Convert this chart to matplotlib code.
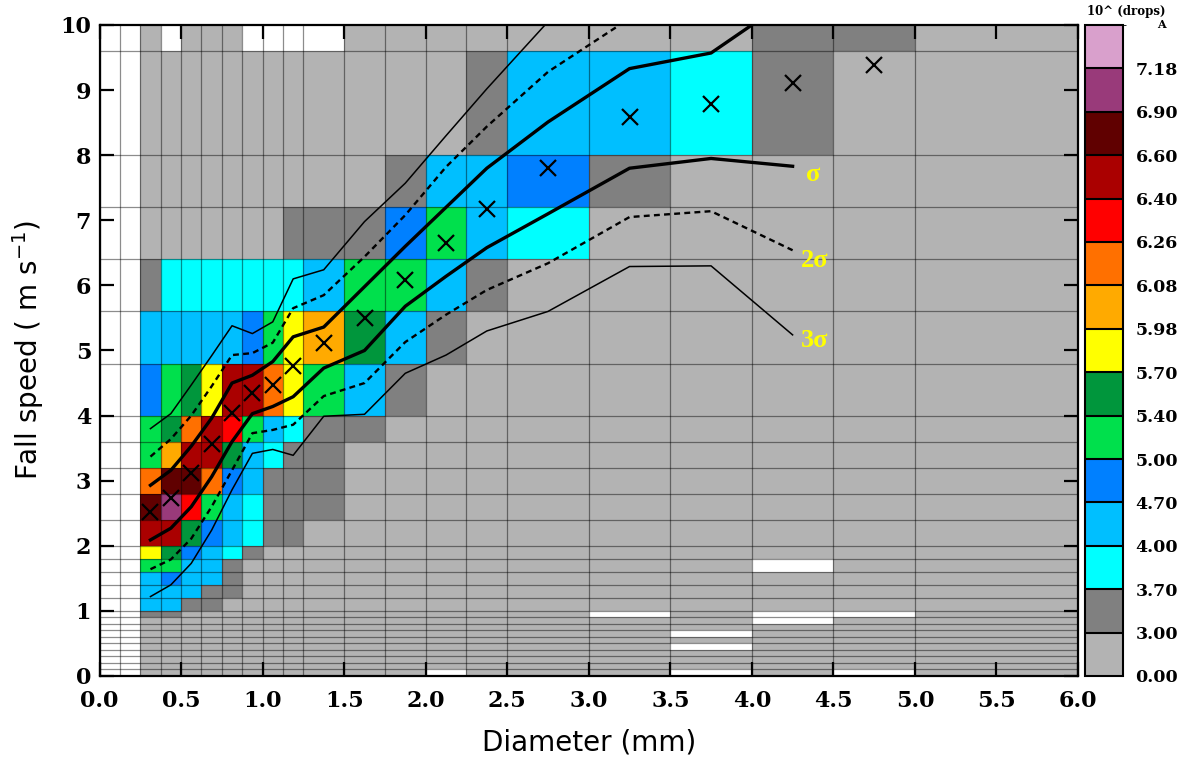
import numpy as np
import matplotlib
matplotlib.use('Agg')
import matplotlib.pyplot as plt
from matplotlib.colors import ListedColormap, BoundaryNorm
from matplotlib.cm import ScalarMappable

nan = np.nan

# diameter / fall speed classes (bin edges)
diam_edges = [0.0, 0.125, 0.25, 0.375, 0.5, 0.625, 0.75, 0.875, 1.0, 1.125, 1.25,
              1.5, 1.75, 2.0, 2.25, 2.5, 3.0, 3.5, 4.0, 4.5, 5.0, 6.0]
speed_edges = [0.0, 0.1, 0.2, 0.3, 0.4, 0.5, 0.6, 0.7, 0.8, 0.9, 1.0,
               1.2, 1.4, 1.6, 1.8, 2.0, 2.4, 2.8, 3.2, 3.6, 4.0,
               4.8, 5.6, 6.4, 7.2, 8.0, 9.6, 11.2]

# log10(number of drops), one row per speed class (bottom -> top)
counts = [
    [nan, nan, 2, 2, 2, 2, 2, 2, 2, 2, 2, 2, 2, nan, 2, 2, 2, nan, 2, nan, 2],        # 0.0-0.1
    [nan, nan, 2, 2, 2, 2, 2, 2, 2, 2, 2, 2, 2, 2, 2, 2, 2, 2, 2, 2, 2],              # 0.1-0.2
    [nan, nan, 2, 2, 2, 2, 2, 2, 2, 2, 2, 2, 2, 2, 2, 2, 2, 2, 2, 2, 2],              # 0.2-0.3
    [nan, nan, 2, 2, 2, 2, 2, 2, 2, 2, 2, 2, 2, 2, 2, 2, 2, 2, 2, 2, 2],              # 0.3-0.4
    [nan, nan, 2, 2, 2, 2, 2, 2, 2, 2, 2, 2, 2, 2, 2, 2, 2, nan, 2, 2, 2],            # 0.4-0.5
    [nan, nan, 2, 2, 2, 2, 2, 2, 2, 2, 2, 2, 2, 2, 2, 2, 2, 2, 2, 2, 2],              # 0.5-0.6
    [nan, nan, 2, 2, 2, 2, 2, 2, 2, 2, 2, 2, 2, 2, 2, 2, 2, nan, 2, 2, 2],            # 0.6-0.7
    [nan, nan, 2, 2, 2, 2, 2, 2, 2, 2, 2, 2, 2, 2, 2, 2, 2, 2, 2, 2, 2],              # 0.7-0.8
    [nan, nan, 2, 2, 2, 2, 2, 2, 2, 2, 2, 2, 2, 2, 2, 2, 2, 2, nan, 2, 2],            # 0.8-0.9
    [nan, nan, 3.4, 3.4, 2, 2, 2, 2, 2, 2, 2, 2, 2, 2, 2, 2, nan, 2, nan, nan, 2],    # 0.9-1.0
    [nan, nan, 4.4, 4.4, 3.4, 3.4, 2, 2, 2, 2, 2, 2, 2, 2, 2, 2, 2, 2, 2, 2, 2],      # 1.0-1.2
    [nan, nan, 4.4, 4.4, 4.4, 3.4, 3.4, 2, 2, 2, 2, 2, 2, 2, 2, 2, 2, 2, 2, 2, 2],    # 1.2-1.4
    [nan, nan, 4.4, 4.85, 4.4, 4.4, 3.4, 2, 2, 2, 2, 2, 2, 2, 2, 2, 2, 2, 2, 2, 2],   # 1.4-1.6
    [nan, nan, 5.2, 5.2, 4.4, 4.4, 3.4, 2, 2, 2, 2, 2, 2, 2, 2, 2, 2, 2, nan, 2, 2],  # 1.6-1.8
    [nan, nan, 5.85, 5.55, 4.85, 4.4, 3.85, 3.4, 2, 2, 2, 2, 2, 2, 2, 2, 2, 2, 2, 2, 2],        # 1.8-2.0
    [nan, nan, 6.5, 6.5, 5.55, 4.85, 4.4, 3.85, 3.4, 3.4, 2, 2, 2, 2, 2, 2, 2, 2, 2, 2, 2],     # 2.0-2.4
    [nan, nan, 6.75, 7.0, 6.33, 5.2, 4.4, 3.85, 3.4, 3.4, 3.4, 2, 2, 2, 2, 2, 2, 2, 2, 2, 2],   # 2.4-2.8
    [nan, nan, 6.17, 6.75, 6.75, 6.17, 4.85, 4.4, 3.4, 3.4, 3.4, 2, 2, 2, 2, 2, 2, 2, 2, 2, 2], # 2.8-3.2
    [nan, nan, 5.2, 6.03, 6.5, 6.5, 5.55, 4.4, 3.85, 3.4, 3.4, 2, 2, 2, 2, 2, 2, 2, 2, 2, 2],   # 3.2-3.6
    [nan, nan, 5.2, 5.55, 6.17, 6.5, 6.33, 5.2, 4.4, 3.85, 3.4, 3.4, 2, 2, 2, 2, 2, 2, 2, 2, 2],   # 3.6-4.0
    [nan, nan, 4.85, 5.2, 5.55, 5.85, 6.5, 6.5, 6.17, 5.85, 5.2, 4.4, 3.4, 2, 2, 2, 2, 2, 2, 2, 2], # 4.0-4.8
    [nan, nan, 4.4, 4.4, 4.4, 4.4, 4.4, 4.85, 5.2, 5.85, 6.03, 5.55, 4.4, 3.4, 2, 2, 2, 2, 2, 2, 2], # 4.8-5.6
    [nan, nan, 3.4, 3.85, 3.85, 3.85, 3.85, 3.85, 3.85, 3.85, 4.4, 5.2, 5.2, 4.4, 3.4, 2, 2, 2, 2, 2, 2],  # 5.6-6.4
    [nan, nan, 2, 2, 2, 2, 2, 2, 2, 3.4, 3.4, 3.4, 4.85, 5.2, 4.4, 3.85, 2, 2, 2, 2, 2],  # 6.4-7.2
    [nan, nan, 2, 2, 2, 2, 2, 2, 2, 2, 2, 2, 3.4, 4.4, 4.4, 4.85, 3.4, 2, 2, 2, 2],      # 7.2-8.0
    [nan, nan, 2, 2, 2, 2, 2, 2, 2, 2, 2, 2, 2, 2, 3.4, 4.4, 4.4, 3.85, 3.4, 2, 2],      # 8.0-9.6
    [nan, nan, 2, nan, 2, 2, 2, nan, nan, nan, nan, 2, 2, 2, 2, 2, 2, 2, 3.4, 3.4, 2],   # 9.6-11.2
]

# colour classes of the colour bar
level_bounds = [0.00, 3.00, 3.70, 4.00, 4.70, 5.00, 5.40, 5.70, 5.98,
                6.08, 6.26, 6.40, 6.60, 6.90, 7.18, 7.50]
level_colors = ['#b3b3b3', '#808080', '#00ffff', '#00bfff', '#0080ff',
                '#00e04c', '#00963c', '#ffff00', '#ffaa00', '#ff7000',
                '#ff0000', '#aa0000', '#600000', '#993a7a', '#d9a0cc']

# mean fall speed per diameter class (crosses)
mean_d = [0.3125, 0.4375, 0.5625, 0.6875, 0.8125, 0.9375, 1.0625, 1.1875, 1.375,
          1.625, 1.875, 2.125, 2.375, 2.75, 3.25, 3.75, 4.25, 4.75]
mean_v = [2.52, 2.73, 3.12, 3.57, 4.04, 4.34, 4.47, 4.76, 5.11,
          5.50, 6.08, 6.65, 7.17, 7.80, 8.58, 8.78, 9.11, 9.38]

# sigma envelopes
sig_d = [0.3125, 0.4375, 0.5625, 0.6875, 0.8125, 0.9375, 1.0625, 1.1875, 1.375,
         1.625, 1.875, 2.125, 2.375, 2.75, 3.25, 3.75, 4.25]
up1 = [2.93, 3.16, 3.53, 3.96, 4.50, 4.62, 4.83, 5.21, 5.36,
       5.98, 6.60, 7.20, 7.80, 8.51, 9.33, 9.57, 10.43]
up2 = [3.37, 3.64, 4.00, 4.45, 4.93, 4.96, 5.12, 5.65, 5.85,
       6.44, 7.08, 7.82, 8.44, 9.28, 10.10]
up3 = [3.80, 4.03, 4.47, 4.92, 5.38, 5.26, 5.44, 6.10, 6.24,
       6.98, 7.57, 8.30, 9.02, 10.05]
lo1 = [2.09, 2.27, 2.60, 3.06, 3.60, 4.03, 4.14, 4.29, 4.73,
       5.00, 5.68, 6.14, 6.58, 7.10, 7.80, 7.95, 7.83]
lo2 = [1.64, 1.79, 2.11, 2.60, 3.16, 3.73, 3.78, 3.86, 4.30,
       4.50, 5.13, 5.55, 5.93, 6.34, 7.05, 7.14, 6.54]
lo3 = [1.22, 1.40, 1.73, 2.24, 2.86, 3.42, 3.48, 3.39, 3.99,
       4.02, 4.65, 4.93, 5.30, 5.60, 6.29, 6.30, 5.24]

W, H = 1184, 765
fig = plt.figure(figsize=(W / 100, H / 100), dpi=100)
ax = fig.add_axes([99.5 / W, 89 / H, 978.5 / W, 651 / H])

cmap = ListedColormap(level_colors)
cmap.set_bad('white')
norm = BoundaryNorm(level_bounds, cmap.N)
Z = np.ma.masked_invalid(np.array(counts, dtype=float))
ax.pcolormesh(diam_edges, speed_edges, Z, cmap=cmap, norm=norm)

ax.vlines(diam_edges, 0, 11.2, colors='k', lw=0.9, alpha=0.45, zorder=2)
ax.hlines(speed_edges, 0, 6, colors='k', lw=0.9, alpha=0.45, zorder=2)

ax.plot(sig_d[:len(up3)], up3, color='k', lw=1.1, zorder=3)
ax.plot(sig_d[:len(up2)], up2, color='k', lw=1.7, ls=(0, (2.5, 1.8)), zorder=3)
ax.plot(sig_d, up1, color='k', lw=2.4, zorder=3)
ax.plot(sig_d, lo1, color='k', lw=2.4, zorder=3)
ax.plot(sig_d, lo2, color='k', lw=1.7, ls=(0, (2.5, 1.8)), zorder=3)
ax.plot(sig_d, lo3, color='k', lw=1.1, zorder=3)
ax.plot(mean_d, mean_v, ls='none', marker='x', ms=12, mew=1.6, color='k', zorder=4)

lab = dict(color='#ffff00', fontsize=19, fontweight='bold', family='Liberation Serif',
           ha='left', va='center', zorder=5)
ax.text(4.33, 7.70, 'σ', **lab)
ax.text(4.30, 6.38, '2σ', **lab)
ax.text(4.30, 5.15, '3σ', **lab)

ax.set_xlim(0, 6)
ax.set_ylim(0, 10)
ax.set_xticks(np.arange(0, 6.01, 0.5))
ax.set_xticklabels(['%.1f' % t for t in np.arange(0, 6.01, 0.5)])
ax.set_yticks(range(0, 11))
ax.tick_params(direction='in', length=10, width=1.6, top=True, right=True,
               labelsize=16, pad=6)
ax.tick_params(axis='x', pad=10)
for t in ax.get_xticklabels() + ax.get_yticklabels():
    t.set_family('DejaVu Serif')
    t.set_fontweight('bold')
for s in ax.spines.values():
    s.set_linewidth(1.6)

ax.set_xlabel('Diameter (mm)', fontsize=20, labelpad=12, family='DejaVu Sans')
ax.set_ylabel('Fall speed ( m s$^{-1}$)', fontsize=20, labelpad=10, family='DejaVu Sans')

# colour bar
cax = fig.add_axes([1085 / W, 89 / H, 38 / W, 651 / H])
cb = fig.colorbar(ScalarMappable(norm=norm, cmap=cmap), cax=cax, spacing='uniform',
                  ticks=level_bounds[:-1], drawedges=True)
cb.ax.set_yticklabels(['%.2f' % b for b in level_bounds[:-1]])
cb.ax.tick_params(length=0, pad=9, labelsize=12.5)
for t in cb.ax.get_yticklabels():
    t.set_family('DejaVu Serif')
    t.set_fontweight('bold')
cb.outline.set_linewidth(1.5)
cb.dividers.set_linewidth(1.5)
fig.text(1166 / W, 1 - 24 / H, 'A', fontsize=8, fontweight='bold', family='DejaVu Serif',
         ha='right', va='center')
fig.text(1126 / W, 1 - 11 / H, '10^ (drops)', fontsize=8.5, fontweight='bold',
         family='DejaVu Serif', ha='center', va='center')

fig.savefig('out.png', dpi=100)
